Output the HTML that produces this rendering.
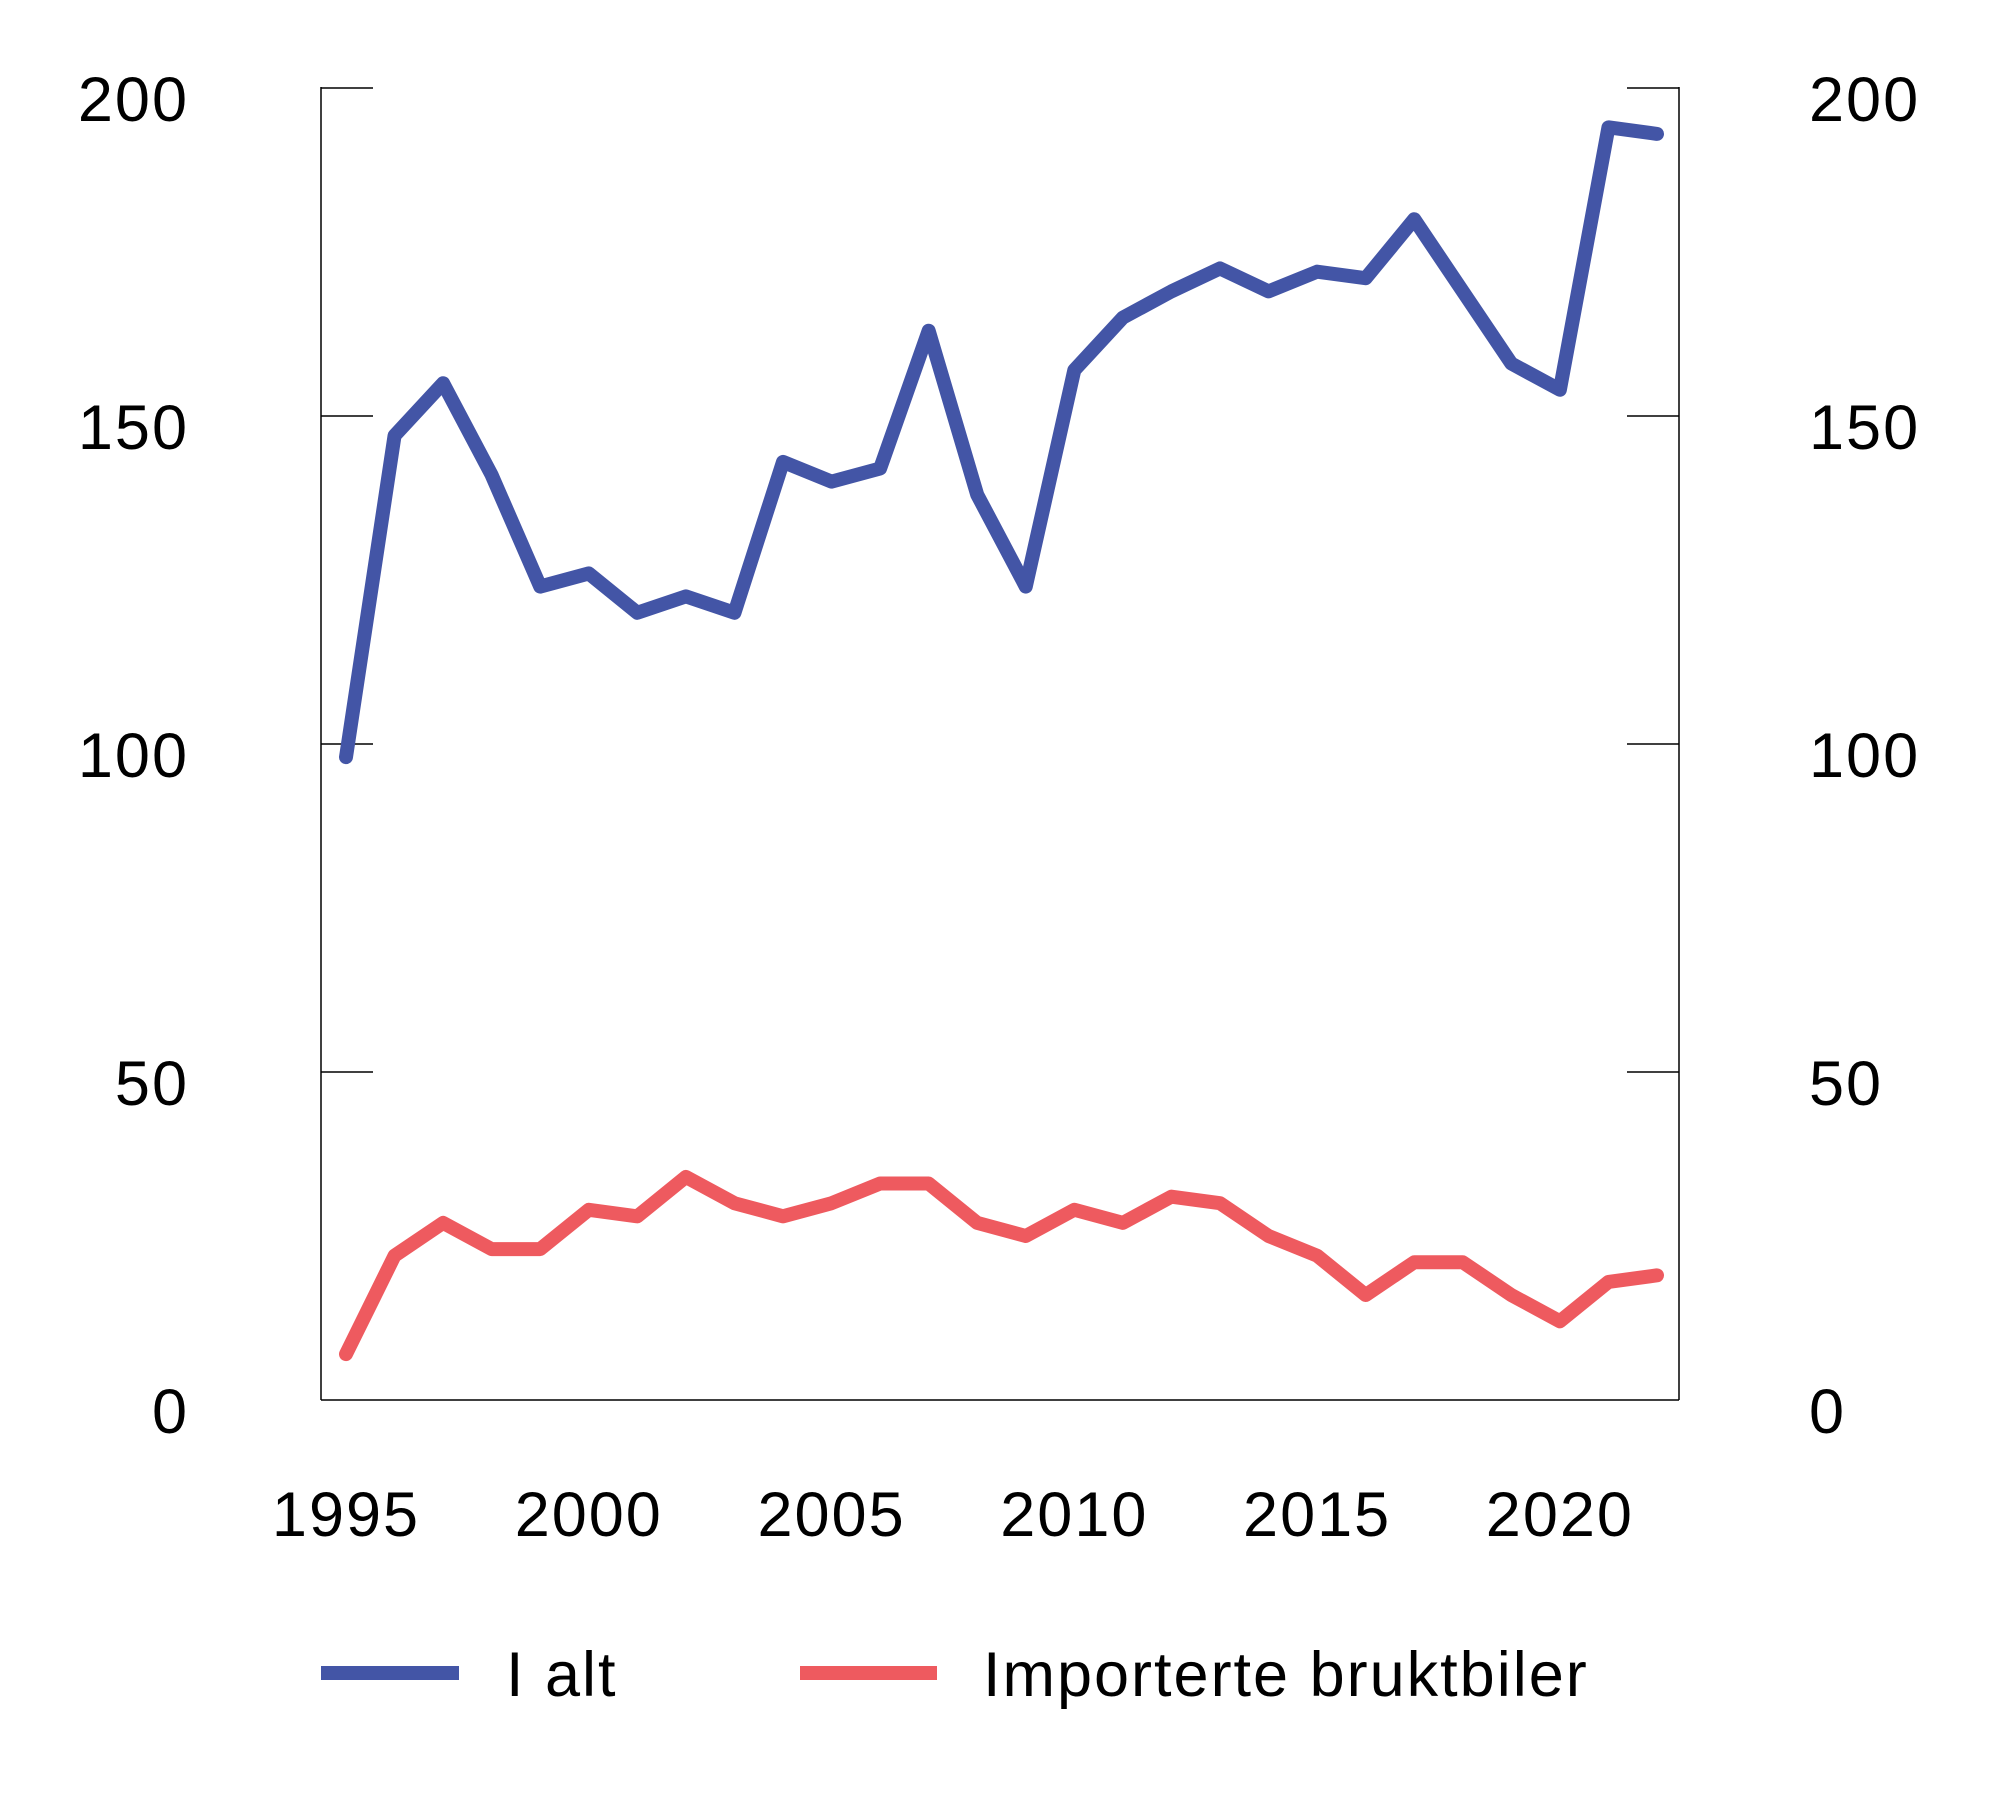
<!DOCTYPE html>
<html><head><meta charset="utf-8"><style>
html,body{margin:0;padding:0;background:#fff;}
svg{display:block;font-family:"Liberation Sans",Arial,sans-serif;}
</style></head><body>
<svg id="chart" width="2000" height="1816" viewBox="0 0 2000 1816"></svg>
<script>
const years = [1995,1996,1997,1998,1999,2000,2001,2002,2003,2004,2005,2006,2007,2008,2009,2010,2011,2012,2013,2014,2015,2016,2017,2018,2019,2020,2021,2022];
const totalValues = [98,147,155,141,124,126,120,122.5,120,143,140,142,163,138,124,157,165,169,172.5,169,172,171,180,169,158,154,194,193];
const importValues = [7,22,27,23,23,29,28,34,30,28,30,33,33,27,25,29,27,31,30,25,22,16,21,21,16,12,18,19];
const yTicks = [0,50,100,150,200];
const xTickLabels = [1995,2000,2005,2010,2015,2020];

const NS = "http://www.w3.org/2000/svg";
const svg = document.getElementById('chart');
const L = 321, R = 1679, Y0 = 1400, Y200 = 88;
const X0 = 346, X1 = 1657;
function xs(v){ return X0 + (v - 1995) * (X1 - X0) / 27; }
function ys(v){ return Y0 - v * (Y0 - Y200) / 200; }
function el(tag, attrs){ const e = document.createElementNS(NS, tag); for (const k in attrs) e.setAttribute(k, attrs[k]); svg.appendChild(e); return e; }

let a = el('line',{x1:L,y1:Y200-1,x2:L,y2:Y0,stroke:'#000','stroke-width':1.5});
 
a = el('line',{x1:R,y1:Y200-1,x2:R,y2:Y0,stroke:'#000','stroke-width':1.5});
 
a = el('line',{x1:L,y1:Y0,x2:R,y2:Y0,stroke:'#000','stroke-width':1.5});
 

const FS = 63, LS = 2;
yTicks.forEach(v => {
  const y = ys(v);
  if (v > 0) {
    let t = el('line',{x1:L,y1:y,x2:L+52,y2:y,stroke:'#000','stroke-width':1.5});
     
    t = el('line',{x1:R-52,y1:y,x2:R,y2:y,stroke:'#000','stroke-width':1.5});
     
  }
  let tx = el('text',{x:189,y:y+33,'text-anchor':'end','font-size':FS,'letter-spacing':LS,fill:'#000'});
  tx.textContent = v;
   
  tx = el('text',{x:1809,y:y+33,'text-anchor':'start','font-size':FS,'letter-spacing':LS,fill:'#000'});
  tx.textContent = v;
   
});
xTickLabels.forEach(v => {
  const tx = el('text',{x:xs(v),y:1536,'text-anchor':'middle','font-size':FS,'letter-spacing':LS,fill:'#000'});
  tx.textContent = v;
   
});

function series(vals, color, name){
  const pts = vals.map((v,i) => xs(years[i]) + ',' + ys(v)).join(' ');
  const p = el('polyline',{points:pts,fill:'none',stroke:color,'stroke-width':14,'stroke-linejoin':'round','stroke-linecap':'round'});
   
}
series(importValues, '#ee5a5f', 'series-importerte-bruktbiler');
series(totalValues, '#4355a6', 'series-i-alt');

let lg = el('line',{x1:321,y1:1673,x2:459,y2:1673,stroke:'#4355a6','stroke-width':14});
 
let lt = el('text',{x:506,y:1696,'font-size':FS,'letter-spacing':LS,fill:'#000'}); lt.textContent = 'I alt';
 
lg = el('line',{x1:800,y1:1673,x2:937,y2:1673,stroke:'#ee5a5f','stroke-width':14});
 
lt = el('text',{x:983,y:1696,'font-size':FS,'letter-spacing':LS,fill:'#000'}); lt.textContent = 'Importerte bruktbiler';
 
</script>
</body></html>
